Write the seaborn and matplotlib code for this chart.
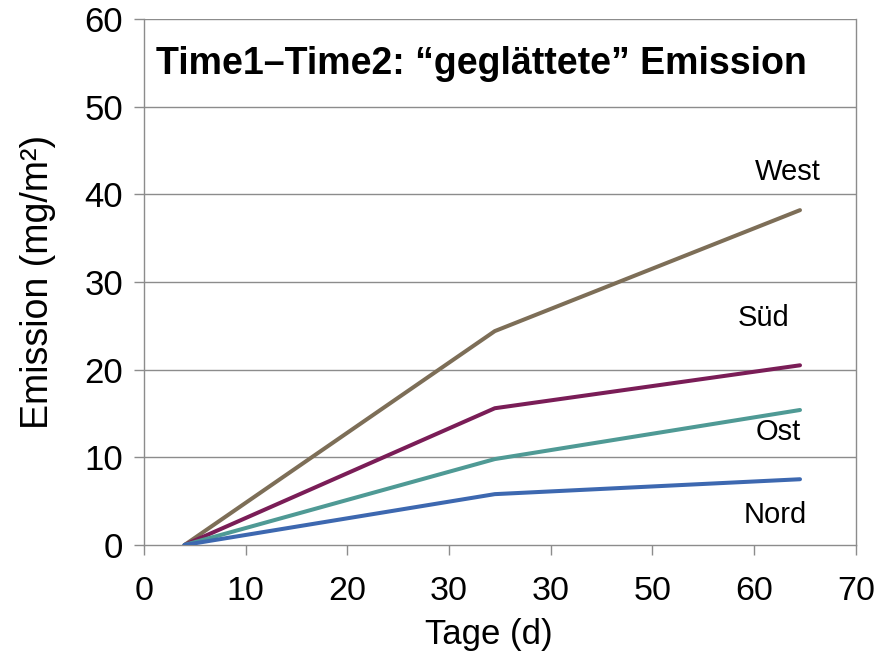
import matplotlib
matplotlib.use("Agg")
import matplotlib.pyplot as plt
import seaborn as sns
import pandas as pd

# Days and cumulative emission for the four orientations
tage = [4, 34.5, 64.5]
nord = [0.0, 5.8, 7.5]
ost = [0.0, 9.8, 15.4]
sued = [0.0, 15.6, 20.5]
west = [0.0, 24.4, 38.2]

serien = ["West", "Süd", "Ost", "Nord"]
farben = ["#7d6e57", "#7a1d57", "#4f9a95", "#3d68b0"]

x_ticks = [0, 10, 20, 30, 40, 50, 60, 70]
x_tick_labels = ["0", "10", "20", "30", "30", "50", "60", "70"]
y_ticks = [0, 10, 20, 30, 40, 50, 60]

# label positions (data coordinates)
label_pos = {"West": (63.3, 42.6), "Süd": (60.9, 25.9), "Ost": (62.4, 12.9), "Nord": (62.1, 3.4)}

werte = {"West": west, "Süd": sued, "Ost": ost, "Nord": nord}
df = pd.DataFrame(
    [(t, v, s) for s in serien for t, v in zip(tage, werte[s])],
    columns=["Tage", "Emission", "Serie"],
)

sns.set_theme(style="white")
plt.rcParams["font.family"] = ["Liberation Sans", "DejaVu Sans"]

fig = plt.figure(figsize=(8.77, 6.57), dpi=100)
ax = fig.add_axes([0.164, 0.1705, 0.812, 0.8005])

grau = "#8c8c8c"
for y in y_ticks[1:]:
    ax.axhline(y, color=grau, lw=1.0, zorder=0)

sns.lineplot(data=df, x="Tage", y="Emission", hue="Serie", hue_order=serien,
             palette=farben, linewidth=2.9, legend=False, ax=ax, zorder=3)

ax.set_xlim(0, 70)
ax.set_ylim(0, 60)
ax.set_xticks(x_ticks)
ax.set_xticklabels(x_tick_labels)
ax.set_yticks(y_ticks)

for side in ["left", "bottom", "right"]:
    ax.spines[side].set_color(grau)
    ax.spines[side].set_linewidth(1.0)
ax.spines["top"].set_visible(False)

ax.tick_params(axis="both", which="major", direction="out", length=7,
               width=1.0, color=grau, labelcolor="black")
ax.tick_params(axis="y", labelsize=25, pad=8, left=True)
ax.tick_params(axis="x", labelsize=24.5, pad=15, bottom=True)

ax.set_xlabel("Tage (d)", fontsize=25, labelpad=8, color="black")
ax.xaxis.set_label_coords(0.485, -0.139)
ax.set_ylabel("Emission (mg/m²)", fontsize=27, labelpad=20, color="black")

ax.text(1.2, 54.9, "Time1–Time2: “geglättete” Emission", fontsize=27,
        fontweight="bold", ha="left", va="center", color="black")

for name, (lx, ly) in label_pos.items():
    ax.text(lx, ly, name, fontsize=21, ha="center", va="center", color="black")

fig.savefig("out.png", dpi=100, facecolor="white")
